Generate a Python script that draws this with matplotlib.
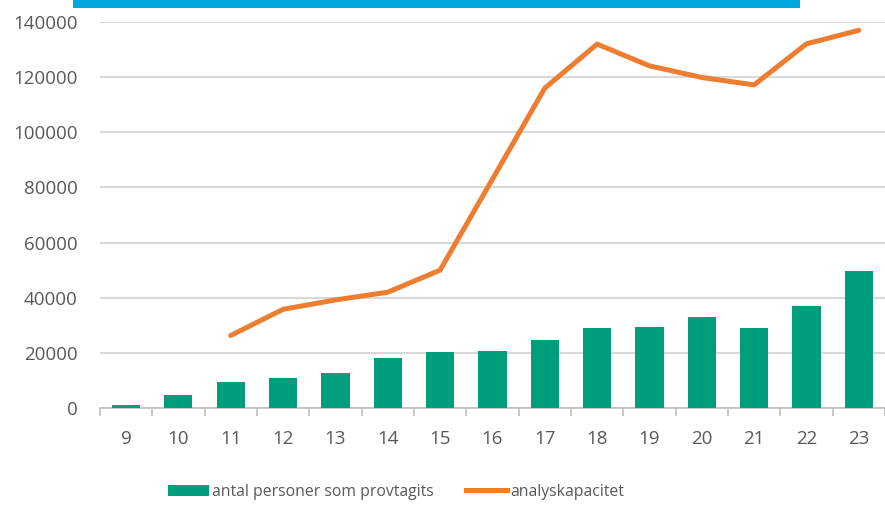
import matplotlib
matplotlib.use("Agg")
import matplotlib.pyplot as plt
import numpy as np
from matplotlib.patches import Patch, Rectangle
from matplotlib.lines import Line2D

categories = ["9", "10", "11", "12", "13", "14", "15", "16", "17", "18", "19", "20", "21", "22", "23"]
tested = [1000, 4700, 9300, 10800, 12700, 18100, 20200, 20600, 24800, 29100, 29500, 33100, 29100, 36900, 49600]
capacity = [np.nan, np.nan, 26300, 35800, 39200, 42000, 50000, 83000, 116000, 132000, 124100, 119900, 117200, 132100, 137000]
yticks = [0, 20000, 40000, 60000, 80000, 100000, 120000, 140000]

plt.rcParams['font.family'] = ['Open Sans', 'DejaVu Sans']
green = "#009E7B"
orange = "#ED7D31"
textc = "#595959"

fig = plt.figure(figsize=(8.85, 5.09), dpi=100)
fig.patch.set_facecolor("white")
ax = fig.add_axes([0.1128, 0.1984, 0.8872, 0.7583])

x = np.arange(len(categories))
ax.bar(x, tested, width=0.54, color=green, zorder=3)
ax.plot(x, capacity, color=orange, lw=3.6, solid_capstyle='round', solid_joinstyle='round', zorder=4)

ax.set_xlim(-0.5, len(categories) - 0.5)
ax.set_ylim(0, 140000)
ax.set_yticks(yticks)
ax.set_yticklabels([str(v) for v in yticks])
ax.set_xticks(x)
ax.set_xticklabels(categories)
ax.set_xticks(np.arange(-0.5, len(categories), 1.0), minor=True)
ax.tick_params(axis='y', length=0, pad=16, labelsize=13.5, labelcolor=textc)
ax.tick_params(axis='x', which='major', length=0, pad=16, labelsize=13.5, labelcolor=textc)
ax.tick_params(axis='x', which='minor', length=6, width=1.2, color="#bfbfbf", direction='out')
ax.grid(axis='y', color="#d9d9d9", lw=1.5, zorder=0)
ax.set_axisbelow(True)
for s in ['top', 'right', 'left']:
    ax.spines[s].set_visible(False)
ax.spines['bottom'].set_color("#bfbfbf")
ax.spines['bottom'].set_linewidth(1.2)
ax.set_facecolor("none")

# top cyan bar
fig.add_artist(Rectangle((73/885, 1 - 8/509), (800-73)/885, 8/509, transform=fig.transFigure,
                         color="#00A8E1", lw=0))

handles = [Patch(facecolor=green, edgecolor='none', label="antal personer som provtagits"),
           Line2D([], [], color=orange, lw=3.6, label="analyskapacitet")]
leg = fig.legend(handles=handles, loc='center', bbox_to_anchor=(396/885, 17/509), ncol=2,
                 frameon=False, fontsize=11.3, handlelength=2.6, handleheight=0.75,
                 handletextpad=0.2, columnspacing=2.1, labelcolor=textc)

fig.savefig("out.png", dpi=100, facecolor="white")
